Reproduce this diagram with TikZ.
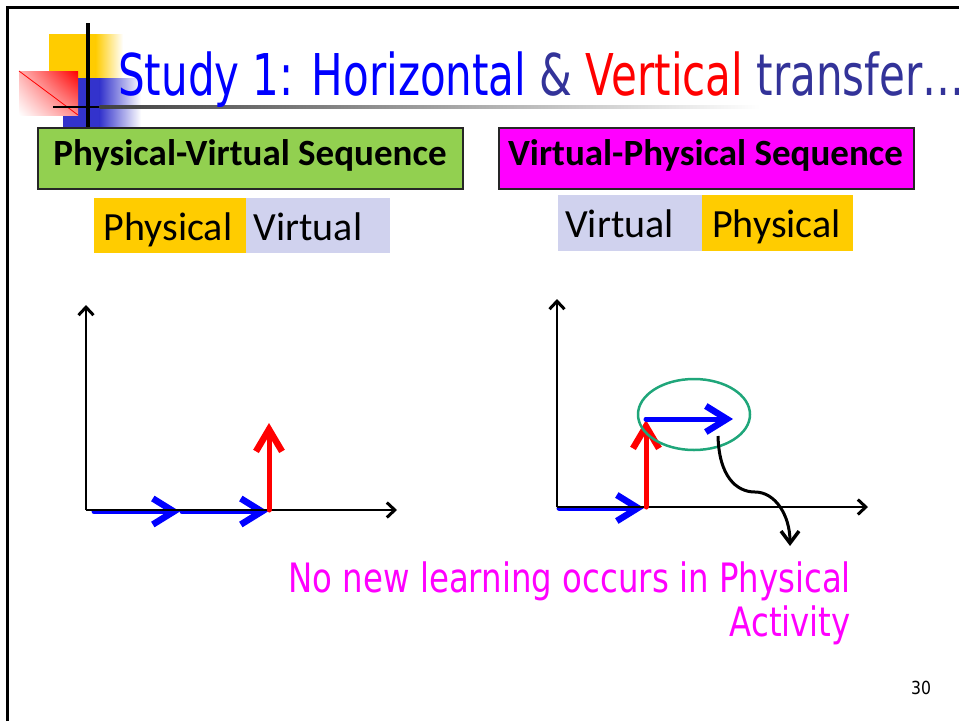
\documentclass[tikz,border=0pt]{standalone}
\usepackage{fontspec}
\setmainfont{DejaVu Sans}
\newfontfamily\tahTitle[FakeStretch=0.73]{DejaVu Sans}
\newfontfamily\tahPink[FakeStretch=0.80]{DejaVu Sans}
\newfontfamily\tahNum[FakeStretch=0.87]{DejaVu Sans}
\newfontfamily\calfont{Carlito}
\usetikzlibrary{arrows.meta,shapes.geometric,shadings}
\definecolor{yel}{HTML}{FFCC00}
\definecolor{lav}{HTML}{D0D2EE}
\definecolor{grn}{HTML}{92D050}
\definecolor{mag}{HTML}{FF00FF}
\definecolor{dblue}{HTML}{333399}
\definecolor{lblue}{HTML}{3333CC}
\definecolor{pblue}{HTML}{0000FF}
\definecolor{pred}{HTML}{FF0000}
\definecolor{ellc}{HTML}{1FA67A}
\tikzset{
  headbox/.style={draw=black!85, line width=1.5pt, inner sep=0pt, anchor=north west},
  tagbox/.style={inner sep=0pt, anchor=north west},
  headtxt/.style={inner sep=0pt, anchor=base, font=\calfont\bfseries\fontsize{37}{40}\selectfont},
  tagtxt/.style={inner sep=0pt, anchor=base, font=\calfont\fontsize{40}{44}\selectfont},
  axis/.style={line width=2.5pt, -{Straight Barb[length=8pt, width=15pt, line width=3pt]}},
  bluearr/.style={pblue, line width=5pt, line cap=round, -{Straight Barb[length=21pt, width=26pt, line width=6.5pt]}},
  redarr/.style={pred, line width=5pt, line cap=round, -{Straight Barb[length=22pt, width=26pt, line width=6.5pt]}},
  curvarr/.style={line width=3pt, -{Straight Barb[length=12pt, width=18pt, line width=3.5pt]}},
  pinktxt/.style={inner sep=0pt, anchor=base east, text=mag, font=\tahPink\fontsize{40.5}{44}\selectfont}
}
\begin{document}
\begin{tikzpicture}[x=1pt,y=-1pt]
\useasboundingbox (0,0) rectangle (959,721);
% frame
\draw[line width=2.5pt] (7.5,721) -- (7.5,7.5) -- (959,7.5);
% logo
\fill[yel] (49,34) rectangle (96,78);
\shade[left color=yel, right color=white] (95.5,34) rectangle (123,78);
\fill[lblue] (63,78) rectangle (100,127);
\shade[left color=lblue, right color=white] (99.5,78) rectangle (141,127);
\shade[upper right=pred, upper left=pred!30, lower right=pred!45, lower left=white] (19,71) rectangle (78,115);
\draw[pred, line width=0.8pt] (19,71) -- (78,115);
\fill[black] (53,105.8) rectangle (100,108.2);
\shade[left color=black!75, right color=white] (99.5,105.8) rectangle (760,108.2);
\draw[line width=4pt] (88,23) -- (88,127);
% title
\node[inner sep=0pt, anchor=base west, font=\tahTitle\fontsize{57.6}{60}\selectfont] (title) at (118,95)
  {\textcolor{pblue}{Study 1: Horizontal} \textcolor{dblue}{\&} \textcolor{pred}{Vertical} \textcolor{dblue}{transfer\ldots}};
% heading boxes
\node[headbox, fill=grn, minimum width=425pt, minimum height=61pt] (hL) at (37,127) {};
\node[headtxt] (hLt) at (250,165) {Physical-Virtual Sequence};
\node[headbox, fill=mag, minimum width=415pt, minimum height=61pt] (hR) at (498,127) {};
\node[headtxt] (hRt) at (705.5,165) {Virtual-Physical Sequence};
% tags left
\node[tagbox, fill=yel, minimum width=152pt, minimum height=55pt] (lP) at (94,198) {};
\node[tagbox, fill=lav, minimum width=144pt, minimum height=55pt] (lV) at (246,198) {};
\node[tagtxt] (lPt) at (168,240) {Physical};
\node[tagtxt] (lVt) at (308,240) {Virtual};
% tags right
\node[tagbox, fill=lav, minimum width=144pt, minimum height=56pt] (rV) at (558,195) {};
\node[tagbox, fill=yel, minimum width=151pt, minimum height=56pt] (rP) at (702,195) {};
\node[tagtxt] (rVt) at (619.5,237) {Virtual};
\node[tagtxt] (rPt) at (776.5,237) {Physical};
% left graph
\coordinate (lO) at (86,510);
\coordinate (lX) at (397,510);
\coordinate (lY) at (86,305);
\coordinate (la0) at (94,511.5);
\coordinate (la1) at (180,511.5);
\coordinate (la2) at (182,511.5);
\coordinate (la3) at (268,511.5);
\coordinate (lr0) at (269,510);
\coordinate (lr1) at (269,423);
\draw[bluearr] (la0) -- (la1);
\draw[bluearr] (la2) -- (la3);
\draw[axis] (lO) -- (lX);
\draw[axis] (lO) -- (lY);
\draw[redarr] (lr0) -- (lr1);
% right graph
\coordinate (rO) at (557,507);
\coordinate (rX) at (868,507);
\coordinate (rY) at (557,299);
\coordinate (ra0) at (559,508);
\coordinate (ra1) at (644,508);
\coordinate (rr0) at (646,507);
\coordinate (rr1) at (646,420);
\coordinate (rb0) at (646,419);
\coordinate (rb1) at (733,419);
\draw[bluearr] (ra0) -- (ra1);
\draw[axis] (rO) -- (rX);
\draw[axis] (rO) -- (rY);
\draw[redarr] (rr0) -- (rr1);
\draw[bluearr] (rb0) -- (rb1);
\node[draw=ellc, line width=2.5pt, ellipse, minimum width=112pt, minimum height=71pt, inner sep=0pt] (ell) at (694,414.5) {};
\coordinate (c1) at (718,436);
\coordinate (c2) at (755,492);
\coordinate (c3) at (790,546);
\draw[curvarr] (c1) .. controls (719,476) and (736,492) .. (c2) .. controls (775,492) and (790,515) .. (c3);
% pink text
\node[pinktxt] (pk1) at (851,592) {No new learning occurs in Physical};
\node[pinktxt] (pk2) at (851,636) {Activity};
% page number
\node[inner sep=0pt, anchor=base west, font=\tahNum\fontsize{18}{20}\selectfont] (num) at (911,694) {30};
\end{tikzpicture}
\end{document}
